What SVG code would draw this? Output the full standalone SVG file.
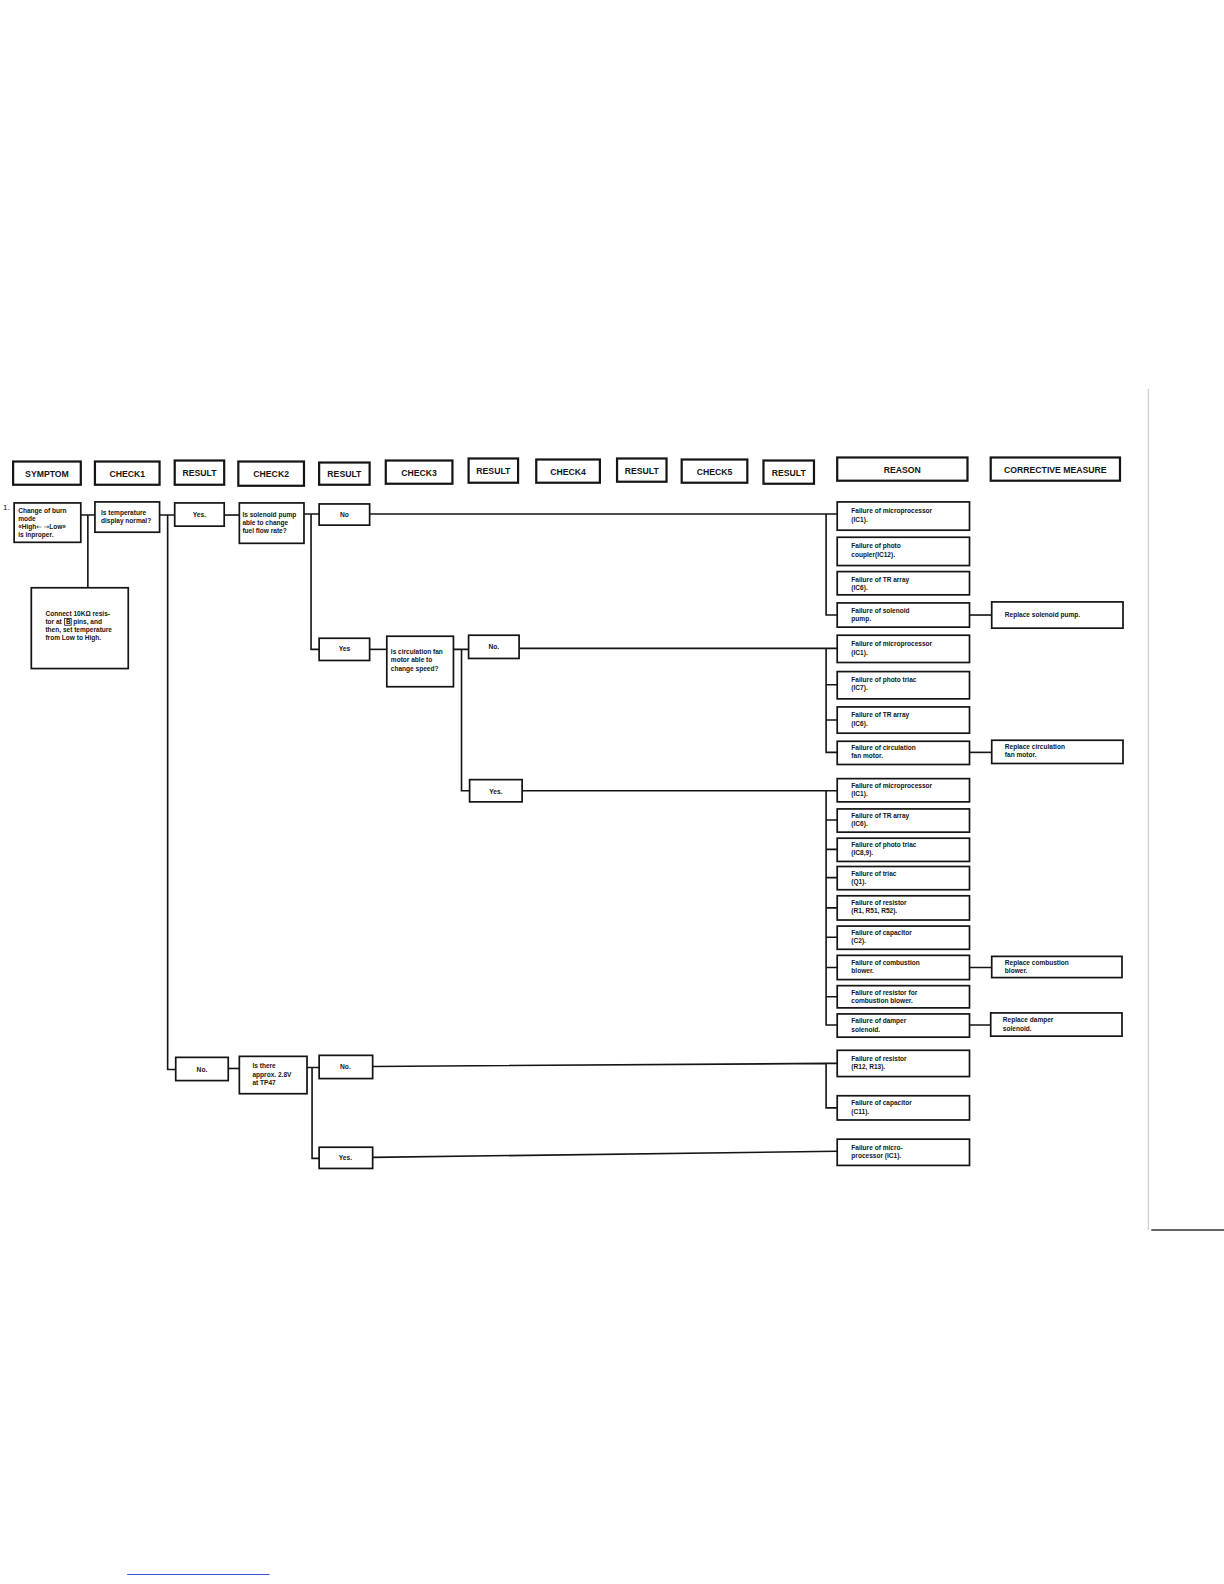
<svg xmlns="http://www.w3.org/2000/svg" width="1224" height="1584" viewBox="0 0 1224 1584">
<style>
.hb{fill:#fff;stroke:#151515;stroke-width:2.2}
.b{fill:#fff;stroke:#151515;stroke-width:1.7}
.ht{font-family:"Liberation Sans",Arial,sans-serif;font-weight:bold;font-size:8.6px;text-anchor:middle;fill:#151515}
.t{font-family:"Liberation Sans",Arial,sans-serif;font-weight:bold;font-size:6.5px;fill:#151515}
.tc{font-family:"Liberation Sans",Arial,sans-serif;font-weight:bold;font-size:6.6px;fill:#151515;text-anchor:middle}
.c{fill:none;stroke:#151515;stroke-width:1.6}
.ar{font-family:"DejaVu Sans",sans-serif;font-weight:normal}
</style>
<rect width="1224" height="1584" fill="#fff"/>
<g transform="scale(1.0099)">
<g id="artifacts">
<line x1="1137" y1="385" x2="1137" y2="1218" stroke="#c4c4c4" stroke-width="1"/>
<line x1="1140" y1="1218" x2="1212" y2="1218" stroke="#333" stroke-width="1.5"/>
<line x1="126" y1="1559" x2="267" y2="1559" stroke="#3a5bd0" stroke-width="1"/>
</g>
<g id="headers">
<g id="h-symptom"><rect class="hb" x="13" y="457" width="67" height="23"/><text class="ht" x="46.5" y="472">SYMPTOM</text></g>
<g id="h-check1"><rect class="hb" x="94" y="457" width="64" height="23"/><text class="ht" x="126" y="472">CHECK1</text></g>
<g id="h-result1"><rect class="hb" x="173" y="456" width="49" height="24"/><text class="ht" x="197.5" y="471">RESULT</text></g>
<g id="h-check2"><rect class="hb" x="236" y="457" width="65" height="24"/><text class="ht" x="268.5" y="472.5">CHECK2</text></g>
<g id="h-result2"><rect class="hb" x="316" y="458" width="50" height="22"/><text class="ht" x="341" y="472.5">RESULT</text></g>
<g id="h-check3"><rect class="hb" x="382" y="456" width="66" height="23"/><text class="ht" x="415" y="471">CHECK3</text></g>
<g id="h-result3"><rect class="hb" x="464" y="454" width="49" height="24"/><text class="ht" x="488.5" y="469.5">RESULT</text></g>
<g id="h-check4"><rect class="hb" x="531" y="455" width="63" height="23"/><text class="ht" x="562.5" y="470">CHECK4</text></g>
<g id="h-result4"><rect class="hb" x="611" y="454" width="49" height="23"/><text class="ht" x="635.5" y="469">RESULT</text></g>
<g id="h-check5"><rect class="hb" x="675" y="455" width="65" height="23"/><text class="ht" x="707.5" y="470">CHECK5</text></g>
<g id="h-result5"><rect class="hb" x="756" y="456" width="50" height="23"/><text class="ht" x="781" y="471">RESULT</text></g>
<g id="h-reason"><rect class="hb" x="829" y="453" width="129" height="23"/><text class="ht" x="893.5" y="468">REASON</text></g>
<g id="h-corrective"><rect class="hb" x="981" y="453" width="128" height="23"/><text class="ht" x="1045" y="468">CORRECTIVE MEASURE</text></g>
</g>
<g id="connectors">
<path class="c" d="M80 510 H94 M87 510 V582"/>
<path class="c" d="M158 510 H173 M166 510 V1059 H174"/>
<path class="c" d="M222 510 H237"/>
<path class="c" d="M301 509 H316 M308 509 V643 H316"/>
<path class="c" d="M366 509 H829 M818 509 V609 H829"/>
<path class="c" d="M960 609 H982"/>
<path class="c" d="M366 643 H383"/>
<path class="c" d="M449 643 H464 M457 643 V783 H465"/>
<path class="c" d="M514 642 H829 M818 642 V745 H829 M818 678 H829 M818 713 H829"/>
<path class="c" d="M960 745 H982"/>
<path class="c" d="M517 783 H829 M818 783 V1015 H829 M818 812 H829 M818 841 H829 M818 869 H829 M818 899 H829 M818 928 H829 M818 958 H829 M818 987 H829"/>
<path class="c" d="M960 958 H982 M960 1015 H981"/>
<path class="c" d="M226 1058 H237"/>
<path class="c" d="M304 1057 H316 M309 1057 V1147 H316"/>
<path class="c" d="M369 1056 L818 1053 H829 M818 1053 V1097 H829"/>
<path class="c" d="M369 1146 L829 1140"/>
</g>
<g id="n-symptom">
<text class="t" x="3" y="505" style="font-size:8px;font-weight:normal">1.</text>
<rect class="b" x="14" y="498" width="66" height="39"/>
<text class="t" x="18" y="508">Change of burn</text>
<text class="t" x="18" y="516">mode</text>
<text class="t" x="18" y="524">«High<tspan class="ar">←</tspan> <tspan class="ar">→</tspan>Low»</text>
<text class="t" x="18" y="532">is inproper.</text>
</g>
<g id="n-connect">
<rect class="b" x="31" y="582" width="96" height="80"/>
<text class="t" x="45" y="610">Connect 10KΩ resis-</text>
<text class="t" x="45" y="618">tor at</text>
<rect x="64" y="612.3" width="6.5" height="6.8" fill="none" stroke="#151515" stroke-width="0.8"/>
<text class="t" x="65.4" y="618">B</text>
<text class="t" x="72.5" y="618">pins, and</text>
<text class="t" x="45" y="626">then, set temperature</text>
<text class="t" x="45" y="634">from Low to High.</text>
</g>
<g id="n-check1">
<rect class="b" x="94" y="497" width="64" height="30"/>
<text class="t" x="100" y="510">Is temperature</text>
<text class="t" x="100" y="518">display normal?</text>
</g>
<g id="n-yes1"><rect class="b" x="173" y="498" width="49" height="23"/><text class="tc" x="197.5" y="512">Yes.</text></g>
<g id="n-check2">
<rect class="b" x="237" y="498" width="64" height="40"/>
<text class="t" x="240" y="512">Is solenoid pump</text>
<text class="t" x="240" y="520">able to change</text>
<text class="t" x="240" y="528">fuel flow rate?</text>
</g>
<g id="n-no1"><rect class="b" x="316" y="499" width="50" height="21"/><text class="tc" x="341" y="512">No</text></g>
<g id="n-yes2"><rect class="b" x="316" y="632" width="50" height="22"/><text class="tc" x="341" y="645">Yes</text></g>
<g id="n-check3">
<rect class="b" x="383" y="630" width="66" height="50"/>
<text class="t" x="387" y="648">Is circulation fan</text>
<text class="t" x="387" y="656">motor able to</text>
<text class="t" x="387" y="664">change speed?</text>
</g>
<g id="n-no2"><rect class="b" x="464" y="629" width="50" height="23"/><text class="tc" x="489" y="643">No.</text></g>
<g id="n-yes3"><rect class="b" x="465" y="772" width="52" height="22"/><text class="tc" x="491" y="786">Yes.</text></g>
<g id="n-no3"><rect class="b" x="174" y="1047" width="52" height="23"/><text class="tc" x="200" y="1061">No.</text></g>
<g id="n-check4">
<rect class="b" x="237" y="1046" width="67" height="37"/>
<text class="t" x="250" y="1058">Is there</text>
<text class="t" x="250" y="1066">approx. 2.8V</text>
<text class="t" x="250" y="1074">at TP47</text>
</g>
<g id="n-no4"><rect class="b" x="316" y="1045" width="53" height="23"/><text class="tc" x="342" y="1059">No.</text></g>
<g id="n-yes4"><rect class="b" x="316" y="1136" width="53" height="21"/><text class="tc" x="342" y="1149">Yes.</text></g>

<g id="r1-1"><rect class="b" x="829" y="497" width="131" height="28"/><text class="t" x="843" y="508">Failure of microprocessor</text><text class="t" x="843" y="516.5">(IC1).</text></g>
<g id="r1-2"><rect class="b" x="829" y="532" width="131" height="28"/><text class="t" x="843" y="543">Failure of photo</text><text class="t" x="843" y="551.5">coupler(IC12).</text></g>
<g id="r1-3"><rect class="b" x="829" y="566" width="131" height="23"/><text class="t" x="843" y="576">Failure of TR array</text><text class="t" x="843" y="584">(IC6).</text></g>
<g id="r1-4"><rect class="b" x="829" y="597" width="131" height="24"/><text class="t" x="843" y="606.5">Failure of solenoid</text><text class="t" x="843" y="614.5">pump.</text></g>
<g id="c1"><rect class="b" x="982" y="596" width="130" height="26"/><text class="t" x="995" y="611">Replace solenoid pump.</text></g>

<g id="r2-1"><rect class="b" x="829" y="629" width="131" height="27"/><text class="t" x="843" y="640">Failure of microprocessor</text><text class="t" x="843" y="648.5">(IC1).</text></g>
<g id="r2-2"><rect class="b" x="829" y="665" width="131" height="27"/><text class="t" x="843" y="675">Failure of photo triac</text><text class="t" x="843" y="683.5">(IC7).</text></g>
<g id="r2-3"><rect class="b" x="829" y="700" width="131" height="26"/><text class="t" x="843" y="710">Failure of TR array</text><text class="t" x="843" y="718.5">(IC6).</text></g>
<g id="r2-4"><rect class="b" x="829" y="734" width="131" height="23"/><text class="t" x="843" y="743">Failure of circulation</text><text class="t" x="843" y="751">fan motor.</text></g>
<g id="c2"><rect class="b" x="982" y="733" width="130" height="23"/><text class="t" x="995" y="742">Replace circulation</text><text class="t" x="995" y="750">fan motor.</text></g>

<g id="r3-1"><rect class="b" x="829" y="771" width="131" height="23"/><text class="t" x="843" y="780">Failure of microprocessor</text><text class="t" x="843" y="788">(IC1).</text></g>
<g id="r3-2"><rect class="b" x="829" y="801" width="131" height="23"/><text class="t" x="843" y="810">Failure of TR array</text><text class="t" x="843" y="818">(IC6).</text></g>
<g id="r3-3"><rect class="b" x="829" y="830" width="131" height="23"/><text class="t" x="843" y="839">Failure of photo triac</text><text class="t" x="843" y="847">(IC8,9).</text></g>
<g id="r3-4"><rect class="b" x="829" y="858" width="131" height="23"/><text class="t" x="843" y="867">Failure of triac</text><text class="t" x="843" y="875">(Q1).</text></g>
<g id="r3-5"><rect class="b" x="829" y="887" width="131" height="24"/><text class="t" x="843" y="896.5">Failure of resistor</text><text class="t" x="843" y="904.5">(R1, R51, R52).</text></g>
<g id="r3-6"><rect class="b" x="829" y="917" width="131" height="23"/><text class="t" x="843" y="926">Failure of capacitor</text><text class="t" x="843" y="934">(C2).</text></g>
<g id="r3-7"><rect class="b" x="829" y="946" width="131" height="24"/><text class="t" x="843" y="955.5">Failure of combustion</text><text class="t" x="843" y="963.5">blower.</text></g>
<g id="r3-8"><rect class="b" x="829" y="976" width="131" height="22"/><text class="t" x="843" y="985">Failure of resistor for</text><text class="t" x="843" y="993">combustion blower.</text></g>
<g id="r3-9"><rect class="b" x="829" y="1004" width="131" height="23"/><text class="t" x="843" y="1013">Failure of damper</text><text class="t" x="843" y="1021.5">solenoid.</text></g>
<g id="c3"><rect class="b" x="982" y="947" width="129" height="21"/><text class="t" x="995" y="955.5">Replace combustion</text><text class="t" x="995" y="963.5">blower.</text></g>
<g id="c4"><rect class="b" x="981" y="1003" width="130" height="23"/><text class="t" x="993" y="1012">Replace damper</text><text class="t" x="993" y="1020.5">solenoid.</text></g>

<g id="r4-1"><rect class="b" x="829" y="1040" width="131" height="26"/><text class="t" x="843" y="1050.5">Failure of resistor</text><text class="t" x="843" y="1059">(R12, R13).</text></g>
<g id="r4-2"><rect class="b" x="829" y="1085" width="131" height="24"/><text class="t" x="843" y="1094.5">Failure of capacitor</text><text class="t" x="843" y="1103">(C11).</text></g>
<g id="r4-3"><rect class="b" x="829" y="1128" width="131" height="26"/><text class="t" x="843" y="1138.5">Failure of micro-</text><text class="t" x="843" y="1147">processor (IC1).</text></g>
</g>
</svg>
